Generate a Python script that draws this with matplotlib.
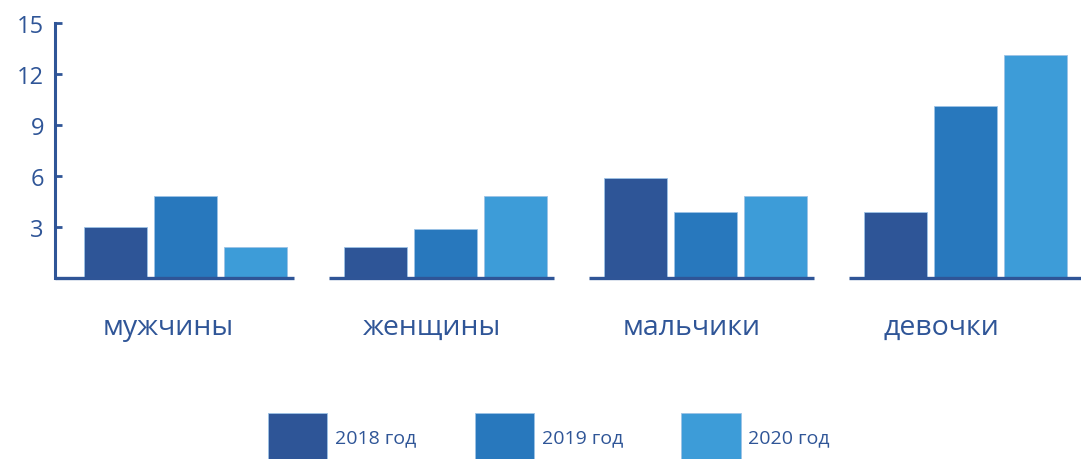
import matplotlib
matplotlib.use("Agg")
import matplotlib.pyplot as plt
import numpy as np

categories = ["мужчины", "женщины", "мальчики", "девочки"]
series_names = ["2018 год", "2019 год", "2020 год"]
values_2018 = [3.0, 1.8, 5.9, 3.9]
values_2019 = [4.8, 2.9, 3.9, 10.1]
values_2020 = [1.8, 4.8, 4.8, 13.1]
yticks = [3, 6, 9, 12, 15]

colors = ["#2E5597", "#2878BD", "#3D9CD8"]
text_color = "#2F5597"

plt.rcParams['font.family'] = ['Open Sans', 'DejaVu Sans']

W, H = 1081, 460
fig = plt.figure(figsize=(W / 100, H / 100), dpi=100)
ax = fig.add_axes([55 / W, (H - 279) / H, (W - 55) / W, (279 - 24) / H])

x = np.arange(len(categories))
step = 70 / 260
width = 63 / 260
handles = []
for k, vals in enumerate([values_2018, values_2019, values_2020]):
    b = ax.bar(x + (k - 1) * step, vals, width=width, color=colors[k],
               edgecolor="#9cc3e6", linewidth=0.6, label=series_names[k], zorder=2)
    handles.append(b)

ax.set_xlim(-0.5, (W - 55) / 260 - 0.5)
ax.set_ylim(0, 15)

# broken baseline under each group
for i in range(len(categories)):
    x0 = -0.5 if i == 0 else i - 116.5 / 260
    x1 = i + 108.5 / 260 if i < len(categories) - 1 else ax.get_xlim()[1]
    ax.hlines(0, x0, x1, color=text_color, lw=2.4, zorder=3, clip_on=False)

for s in ["top", "right", "bottom"]:
    ax.spines[s].set_visible(False)
ax.spines["left"].set_color(text_color)
ax.spines["left"].set_linewidth(2.2)
ax.set_xticks([])
ax.set_yticks(yticks)
ax.tick_params(axis="y", direction="in", length=5, width=2, color=text_color,
               labelsize=17, labelcolor=text_color, pad=8)

for i, c in enumerate(categories):
    ax.text(i - 0.315, -49 / 17, c, ha="left", va="center", fontsize=20.5,
            color=text_color)

leg = fig.legend(handles=handles, labels=series_names, loc="center",
                 bbox_to_anchor=(549 / W, (H - 438) / H), ncol=3, frameon=False,
                 fontsize=14, handlelength=3.05, handleheight=3.4,
                 handletextpad=0.4, columnspacing=3.0, labelcolor=text_color)

fig.savefig("out.png", dpi=100)
